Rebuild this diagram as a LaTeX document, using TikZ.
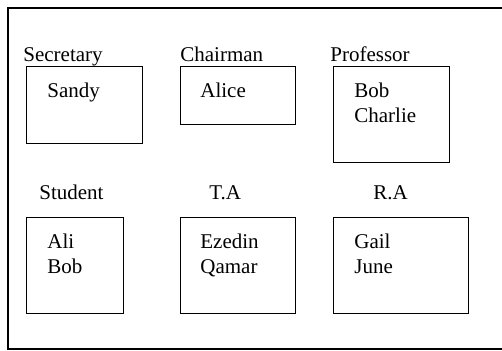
\documentclass[tikz,border=0pt]{standalone}
\usepackage{fontspec}
\setmainfont{Liberation Serif}
\usepackage{tikz}
\usetikzlibrary{positioning}

\begin{document}
\begin{tikzpicture}[
    x=0.5pt, y=-0.5pt,
    rolebox/.style={draw, line width=0.7pt, minimum width=#1, inner sep=0pt, anchor=north west},
    role/.style={anchor=base west, inner sep=0pt, font=\fontsize{10.5}{13}\selectfont},
    names/.style={anchor=base west, inner sep=0pt, align=left, font=\fontsize{10.5}{12.5}\selectfont}
]
    \useasboundingbox (0,0) rectangle (502,350);
    \clip (0,0) rectangle (502,350);
    % outer frame
    \draw[line width=0.7pt] (8,8) rectangle (520,349);

    % top row
    \node[rolebox=58pt, minimum height=38.5pt] (sec) at (26,66) {};
    \node[rolebox=57.5pt, minimum height=29pt] (chair) at (180,66) {};
    \node[rolebox=58pt, minimum height=48pt] (prof) at (333,66) {};
    \node[role] (seclabel) at (23,61) {Secretary};
    \node[role] (chairlabel) at (180,61) {Chairman};
    \node[role] (proflabel) at (330,61) {Professor};
    \node[names] (secnames) at (47,97) {Sandy};
    \node[names] (chairnames) at (200,97) {Alice};
    \node[names] (profnames) at (354,122) {Bob\\Charlie};

    % bottom row (base anchor sits on the last line)
    \node[rolebox=48.5pt, minimum height=48pt] (stud) at (26,217) {};
    \node[rolebox=57.5pt, minimum height=48pt] (ta) at (180,217) {};
    \node[rolebox=67.5pt, minimum height=48pt] (ra) at (333,217) {};
    \node[role] (studlabel) at (39,199) {Student};
    \node[role] (talabel) at (209,199) {T.A};
    \node[role] (ralabel) at (373,199) {R.A};
    \node[names] (studnames) at (47,273) {Ali\\Bob};
    \node[names] (tanames) at (200,273) {Ezedin\\Qamar};
    \node[names] (ranames) at (354,273) {Gail\\June};
\end{tikzpicture}
\end{document}
